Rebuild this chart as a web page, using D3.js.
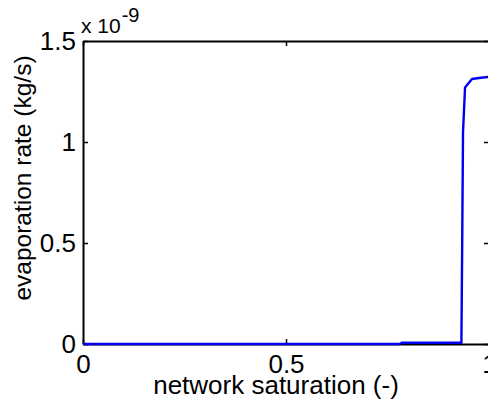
<!DOCTYPE html>
<html>
<head>
<meta charset="utf-8">
<script src="https://cdn.jsdelivr.net/npm/d3@7"></script>
<style>
  html, body { margin: 0; padding: 0; background: #fff; }
  svg { display: block; }
  text { font-family: "Liberation Sans", Arial, sans-serif; fill: #000; }
</style>
</head>
<body>
<script>
// Evaporation rate versus network saturation (rate in units of 1e-9 kg/s)
const saturation = [0, 0.78, 0.785, 0.932, 0.934, 0.936, 0.941, 0.958, 0.98, 1.0];
const evapRate   = [0, 0, 0.006, 0.006, 0.5, 1.05, 1.27, 1.312, 1.318, 1.322];
const xTicks = [0, 0.5, 1];
const yTicks = [0, 0.5, 1, 1.5];
const xTickLabels = ["0", "0.5", "1"];
const yTickLabels = ["0", "0.5", "1", "1.5"];

const W = 488, H = 410;
const plotLeft = 83, plotTop = 41, plotRight = 489, plotBottom = 344;

const svg = d3.select("body").append("svg")
  .attr("width", W).attr("height", H);
svg.append("rect").attr("width", W).attr("height", H).attr("fill", "#fff");

const x = d3.scaleLinear().domain([0, 1]).range([plotLeft, plotRight]);
const y = d3.scaleLinear().domain([0, 1.5]).range([plotBottom, plotTop]);

function styleAxis(g, fontSize) {
  g.select(".domain").attr("stroke", "#000").attr("stroke-width", 2);
  g.selectAll(".tick line").attr("stroke", "#000").attr("stroke-width", 1.5);
  g.selectAll(".tick text")
    .attr("font-size", fontSize)
    .attr("font-family", "Liberation Sans, Arial, sans-serif")
    .attr("fill", "#000");
}

// bottom axis with labels
svg.append("g").attr("transform", `translate(0,${plotBottom})`)
  .call(d3.axisBottom(x).tickValues(xTicks)
    .tickFormat((d, i) => xTickLabels[i])
    .tickSizeInner(-5).tickSizeOuter(0).tickPadding(11))
  .call(g => styleAxis(g, 26));

// top axis (ticks only)
svg.append("g").attr("transform", `translate(0,${plotTop})`)
  .call(d3.axisTop(x).tickValues(xTicks).tickFormat("")
    .tickSizeInner(-5).tickSizeOuter(0))
  .call(g => styleAxis(g, 26));

// left axis with labels
svg.append("g").attr("transform", `translate(${plotLeft},0)`)
  .call(d3.axisLeft(y).tickValues(yTicks)
    .tickFormat((d, i) => yTickLabels[i])
    .tickSizeInner(-5).tickSizeOuter(0).tickPadding(7))
  .call(g => styleAxis(g, 26));

// right axis (ticks only)
svg.append("g").attr("transform", `translate(${plotRight},0)`)
  .call(d3.axisRight(y).tickValues(yTicks).tickFormat("")
    .tickSizeInner(-5).tickSizeOuter(0))
  .call(g => styleAxis(g, 26));

// data line, drawn over the frame
const line = d3.line().x(d => x(d[0])).y(d => y(d[1]));
svg.append("path")
  .datum(saturation.map((s, i) => [s, evapRate[i]]))
  .attr("d", line)
  .attr("fill", "none")
  .attr("stroke", "#0000ee")
  .attr("stroke-width", 2.4)
  .attr("stroke-linejoin", "round");

// exponent marker
const expo = svg.append("text").attr("x", 81).attr("y", 33).attr("font-size", 21);
expo.append("tspan").text("x 10");
expo.append("tspan").attr("dy", -11).attr("dx", 1).attr("font-size", 20).text("-9");

// axis titles
svg.append("text")
  .attr("x", 276).attr("y", 394)
  .attr("text-anchor", "middle")
  .attr("font-size", 26)
  .text("network saturation (-)");

svg.append("text")
  .attr("transform", "translate(31,178) rotate(-90)")
  .attr("text-anchor", "middle")
  .attr("font-size", 24.5)
  .text("evaporation rate (kg/s)");
</script>
</body>
</html>
